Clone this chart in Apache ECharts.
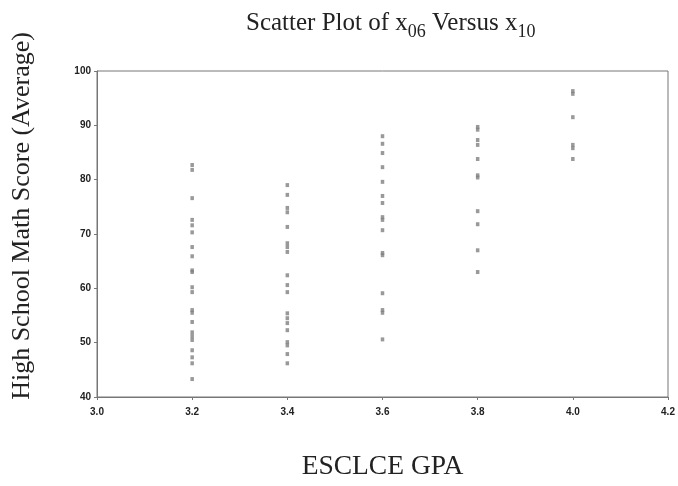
<!DOCTYPE html>
<html>
<head>
<meta charset="utf-8">
<script src="https://cdn.jsdelivr.net/npm/echarts@6/dist/echarts.min.js"></script>
<style>html,body{margin:0;padding:0;background:#fff}#c{width:678px;height:486px}</style>
</head>
<body>
<div id="c"></div>
<script>
// GPA categories (x) and math scores (y)
const gpa32 = [82.7, 81.8, 76.6, 72.6, 71.6, 70.3, 67.6, 65.9, 63.3, 63.0, 60.2, 59.3, 56.0, 55.5, 53.8, 51.9, 51.2, 50.5, 48.6, 47.3, 46.2, 43.3];
const gpa34 = [79.0, 77.2, 74.8, 74.0, 71.3, 68.3, 67.6, 66.7, 62.4, 60.6, 59.3, 55.4, 54.5, 53.6, 52.3, 50.1, 49.5, 47.9, 46.2];
const gpa36 = [88.0, 86.6, 84.9, 82.3, 79.6, 77.0, 75.7, 73.1, 72.6, 70.7, 66.5, 66.1, 59.1, 56.0, 55.5, 50.6];
const gpa38 = [89.7, 89.2, 87.3, 86.4, 83.8, 80.8, 80.4, 74.2, 71.8, 67.0, 63.0];
const gpa40 = [96.3, 95.8, 91.5, 86.4, 85.8, 83.8];
const xValues = [3.2, 3.4, 3.6, 3.8, 4.0];
const yGroups = [gpa32, gpa34, gpa36, gpa38, gpa40];
const xTicks = [3.0, 3.2, 3.4, 3.6, 3.8, 4.0, 4.2];
const yTicks = [40, 50, 60, 70, 80, 90, 100];

const points = [];
xValues.forEach((x, i) => yGroups[i].forEach(y => points.push([x, y])));

const serif = '"Liberation Serif", "DejaVu Serif", serif';
const sans = '"Liberation Sans", Arial, sans-serif';
const chart = echarts.init(document.getElementById('c'));
chart.setOption({
  backgroundColor: '#fff',
  animation: false,
  title: {
    left: 241, top: 6,
    text: '{a|Scatter Plot of x}{s|06}{a| Versus x}{s|10}',
    textStyle: {
      fontWeight: 'normal',
      rich: {
        a: { fontFamily: serif, fontSize: 25, fontWeight: 'normal', color: '#222', verticalAlign: 'top', lineHeight: 28 },
        s: { fontFamily: serif, fontSize: 18, fontWeight: 'normal', color: '#222', verticalAlign: 'top', padding: [12, 0, 0, 0], lineHeight: 28 }
      }
    }
  },
  grid: { left: 97, right: 10, top: 71, bottom: 89, show: true, borderColor: '#777', borderWidth: 1 },
  xAxis: {
    type: 'value', min: 3.0, max: 4.2, interval: 0.2,
    name: 'ESCLCE GPA', nameLocation: 'middle', nameGap: 56,
    nameTextStyle: { fontFamily: serif, fontSize: 27.5, color: '#222' },
    axisLine: { show: true, lineStyle: { color: '#777' } },
    axisTick: { show: true, length: 3, inside: false, lineStyle: { color: '#777' } },
    axisLabel: { fontFamily: sans, fontSize: 10, color: '#222', margin: 10, fontWeight: 'bold',
      formatter: v => xTicks.find(t => Math.abs(t - v) < 1e-6)?.toFixed(1) ?? '' },
    splitLine: { show: false }
  },
  yAxis: {
    type: 'value', min: 40, max: 100, interval: 10,
    name: 'High School Math Score (Average)', nameLocation: 'middle', nameGap: 62,
    nameTextStyle: { fontFamily: serif, fontSize: 26, color: '#222', padding: [0, 0, 0, 36] },
    axisLine: { show: true, lineStyle: { color: '#777' } },
    axisTick: { show: true, length: 3, lineStyle: { color: '#777' } },
    axisLabel: { fontFamily: sans, fontSize: 10, color: '#222', margin: 6, fontWeight: 'bold',
      formatter: v => yTicks.includes(v) ? String(v) : '' },
    splitLine: { show: false }
  },
  series: [{
    type: 'scatter',
    data: points,
    symbol: 'rect',
    symbolSize: [3.5, 4],
    itemStyle: { color: '#808080', opacity: 0.8 }
  }]
});
</script>
</body>
</html>
